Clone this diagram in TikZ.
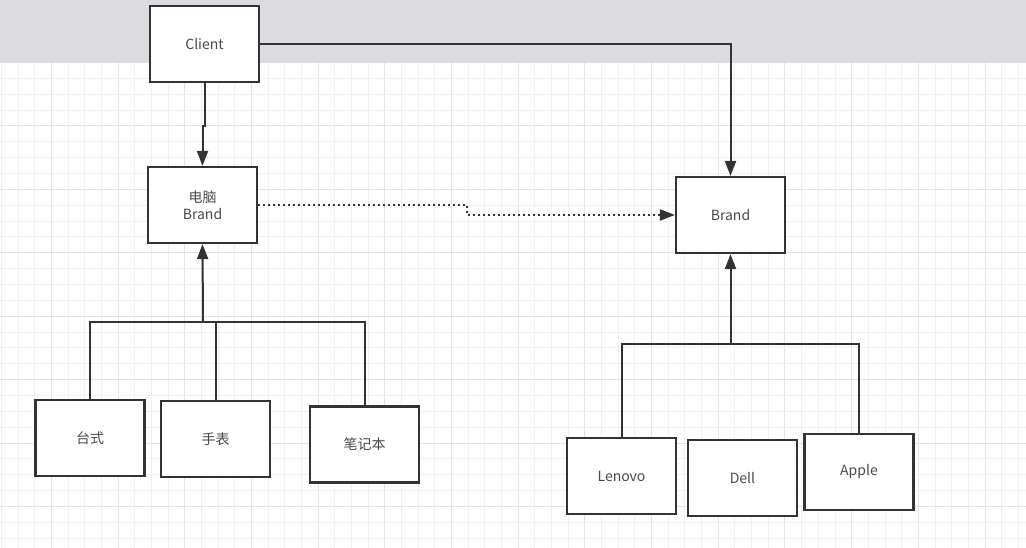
\documentclass[tikz,border=0pt]{standalone}
\usepackage{fontspec}
\usepackage{tikz}
\usetikzlibrary{calc,positioning,arrows.meta}
\newfontfamily\cjk{Noto Sans CJK SC}
\definecolor{umlline}{HTML}{333333}
\definecolor{umltext}{HTML}{4A4A4A}
\definecolor{umlband}{HTML}{DCDCE0}
\definecolor{gridminor}{HTML}{F1F1F1}
\definecolor{gridmajor}{HTML}{E4E4E4}

\begin{document}
\begin{tikzpicture}[
  x=1pt, y=-1pt,
  box/.style={fill=white, draw=umlline, line width=2.2pt, minimum width=109pt, minimum height=76pt, inner sep=0pt, align=center, text=umltext, font=\cjk\fontsize{14}{17}\selectfont},
  arrow/.style={-{Triangle[length=15pt, width=11pt]}, umlline, line width=2pt},
  link/.style={umlline, line width=2pt},
  dotarrow/.style={-{Triangle[length=15pt, width=11pt]}, umlline, line width=2pt, dash pattern=on 2pt off 3pt}
]
  \useasboundingbox (0,0) rectangle (1026,548);
  % Background: band and grid
  \fill[white] (0,0) rectangle (1026,548);
  \fill[umlband] (0,0) rectangle (1026,63);
  \foreach \i in {0,...,61} {
    \pgfmathtruncatemacro{\m}{mod(\i,4)}
    \ifnum\m=3 \def\gc{gridmajor}\else \def\gc{gridminor}\fi
    \draw[\gc, line width=1pt] (1.5+16.67*\i, 63) -- (1.5+16.67*\i, 548);
  }
  \foreach \k in {1,...,30} {
    \pgfmathtruncatemacro{\m}{mod(\k,4)}
    \ifnum\m=0 \def\gc{gridmajor}\else \def\gc{gridminor}\fi
    \draw[\gc, line width=1pt] (0, 62.6+15.85*\k) -- (1026, 62.6+15.85*\k);
  }

  % Abstraction side
  \node[box] (client) at (204.5,44) {Client};
  \node[box] (pcbrand) at (202.5,205) {电脑\\Brand};
  \node[box] (taishi) at (90,438) {台式};
  \node[box] (shoubiao) at (215.5,439) {手表};
  \node[box] (bijiben) at (364.5,444.5) {笔记本};

  % Implementation side
  \node[box] (brand) at (730.5,215) {Brand};
  \node[box] (lenovo) at (621.5,476) {Lenovo};
  \node[box] (dell) at (742.5,478) {Dell};
  \node[box] (apple) at (859,472) {Apple};

  \draw[arrow] (client.south) -- ++(0,43) -| (pcbrand.north);
  \draw[arrow] (client.east) -| (brand.north);
  \draw[dotarrow] (pcbrand.east) -- ++(209,0) |- (brand.west);

  \coordinate (pcjoin) at (203,322);
  \draw[link] (taishi.north) |- (pcjoin);
  \draw[link] (shoubiao.north) |- (pcjoin);
  \draw[link] (bijiben.north) |- (pcjoin);
  \draw[arrow] (pcjoin) -- (pcbrand.south);

  \coordinate (brjoin) at (730.5,344);
  \draw[link] (lenovo.north) |- (brjoin);
  \draw[link] (apple.north) |- (brjoin);
  \draw[arrow] (brjoin) -- (brand.south);
\end{tikzpicture}
\end{document}
